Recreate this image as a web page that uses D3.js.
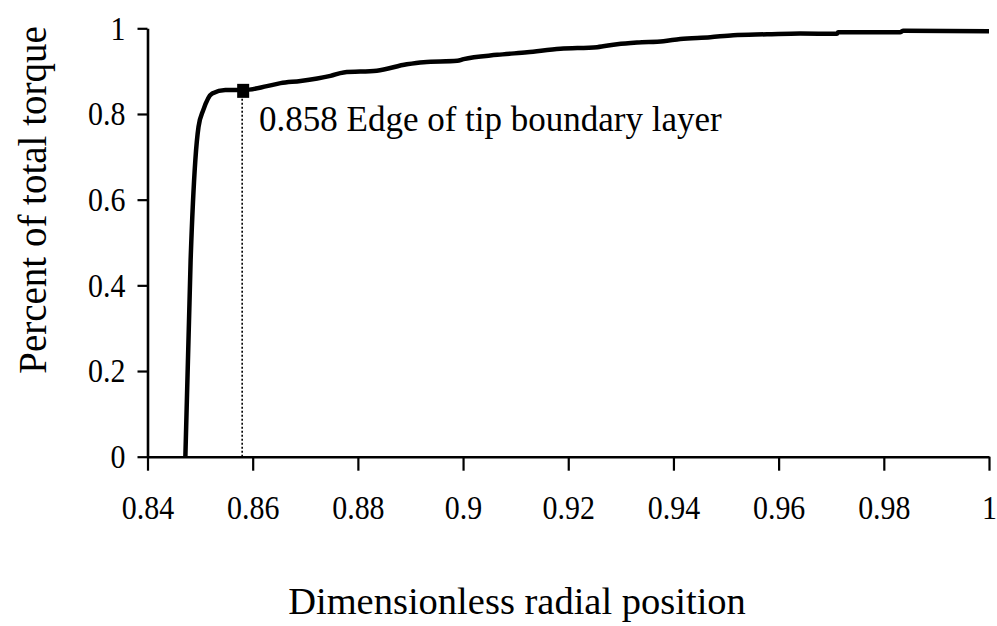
<!DOCTYPE html>
<html>
<head>
<meta charset="utf-8">
<script src="https://cdn.jsdelivr.net/npm/d3@7"></script>
<style>
  html, body { margin: 0; padding: 0; background: #fff; }
  svg { display: block; }
  text { font-family: "Liberation Serif", "Times New Roman", serif; fill: #000; }
</style>
</head>
<body>
<svg id="chart" width="997" height="626"></svg>
<script>
// ---- data ----
const radialPosition = [0.8472, 0.8482, 0.8491, 0.8497, 0.8506, 0.8523, 0.8548, 0.8584, 0.8627, 0.8653,
  0.8691, 0.8748, 0.8773, 0.8836, 0.8893, 0.8925, 0.8989, 0.9001, 0.9065, 0.9122,
  0.9185, 0.9255, 0.9293, 0.9331, 0.9381, 0.9413, 0.9470, 0.9514, 0.9578, 0.9641,
  0.9711, 0.9713, 0.9831, 0.9837, 1.0];
const torqueFraction = [0.000, 0.459, 0.693, 0.770, 0.809, 0.848, 0.856, 0.856, 0.865, 0.872,
  0.877, 0.889, 0.897, 0.901, 0.916, 0.921, 0.924, 0.928, 0.938, 0.944,
  0.952, 0.956, 0.963, 0.967, 0.970, 0.975, 0.979, 0.984, 0.986, 0.988,
  0.987, 0.991, 0.991, 0.994, 0.993];
const xTicks = [0.84, 0.86, 0.88, 0.9, 0.92, 0.94, 0.96, 0.98, 1];
const xTickLabels = ["0.84", "0.86", "0.88", "0.9", "0.92", "0.94", "0.96", "0.98", "1"];
const yTicks = [0, 0.2, 0.4, 0.6, 0.8, 1];
const yTickLabels = ["0", "0.2", "0.4", "0.6", "0.8", "1"];
const markerX = [0.858];
const markerY = [0.854];
const annotationText = "0.858 Edge of tip boundary layer";
const xTitle = "Dimensionless radial position";
const yTitle = "Percent of total torque";

// ---- layout ----
const svg = d3.select("#chart");
const plotLeft = 147.5, plotRight = 989, plotTop = 28.3, plotBottom = 456.7;
const squeeze = 0.88; // tick labels are narrow, tall serif digits

const x = d3.scaleLinear().domain([0.84, 1]).range([plotLeft, plotRight]);
const y = d3.scaleLinear().domain([0, 1]).range([plotBottom, plotTop]);

// x axis
const xAxis = d3.axisBottom(x)
  .tickValues(xTicks)
  .tickFormat((d, i) => xTickLabels[i])
  .tickSizeInner(14).tickSizeOuter(0).tickPadding(24);
const gx = svg.append("g").attr("transform", `translate(0,${plotBottom})`).call(xAxis);
gx.select(".domain").attr("stroke", "#000").attr("stroke-width", 2.6);
gx.selectAll(".tick line").attr("stroke", "#000").attr("stroke-width", 2.2);
gx.selectAll(".tick text")
  .attr("font-family", "'Liberation Serif', serif")
  .attr("font-size", 34).attr("fill", "#000")
  .attr("transform", `scale(${squeeze},1)`);

// y axis
const yAxis = d3.axisLeft(y)
  .tickValues(yTicks)
  .tickFormat((d, i) => yTickLabels[i])
  .tickSizeInner(10).tickSizeOuter(0).tickPadding(12);
const gy = svg.append("g").attr("transform", `translate(${plotLeft},0)`).call(yAxis);
gy.select(".domain").attr("stroke", "#000").attr("stroke-width", 2.6);
gy.selectAll(".tick line").attr("stroke", "#000").attr("stroke-width", 2.2);
gy.selectAll(".tick text")
  .attr("font-family", "'Liberation Serif', serif")
  .attr("font-size", 34).attr("fill", "#000")
  .attr("x", -22 / squeeze)
  .attr("transform", `scale(${squeeze},1)`);

// dotted drop line
svg.append("line")
  .attr("x1", x(markerX[0])).attr("x2", x(markerX[0]))
  .attr("y1", y(markerY[0])).attr("y2", y(0))
  .attr("stroke", "#000").attr("stroke-width", 1.6)
  .attr("stroke-dasharray", "2,2");

// curve
const pts = radialPosition.map((d, i) => [d, torqueFraction[i]]);
svg.append("path")
  .datum(pts)
  .attr("fill", "none")
  .attr("stroke", "#000")
  .attr("stroke-width", 4.5)
  .attr("stroke-linejoin", "round")
  .attr("d", d3.line().x(d => x(d[0])).y(d => y(d[1])).curve(d3.curveMonotoneX));

// marker
const ms = 12;
svg.append("rect")
  .attr("x", x(markerX[0]) - ms / 2 + 1).attr("y", y(markerY[0]) - 7)
  .attr("width", ms).attr("height", 14)
  .attr("fill", "#000");

// annotation
svg.append("text")
  .attr("x", 259).attr("y", 131)
  .attr("font-size", 35)
  .text(annotationText);

// axis titles
svg.append("text")
  .attr("x", 517).attr("y", 614)
  .attr("text-anchor", "middle")
  .attr("font-size", 38.5)
  .text(xTitle);

svg.append("text")
  .attr("transform", "translate(46,200) rotate(-90)")
  .attr("text-anchor", "middle")
  .attr("font-size", 39)
  .text(yTitle);
</script>
</body>
</html>
